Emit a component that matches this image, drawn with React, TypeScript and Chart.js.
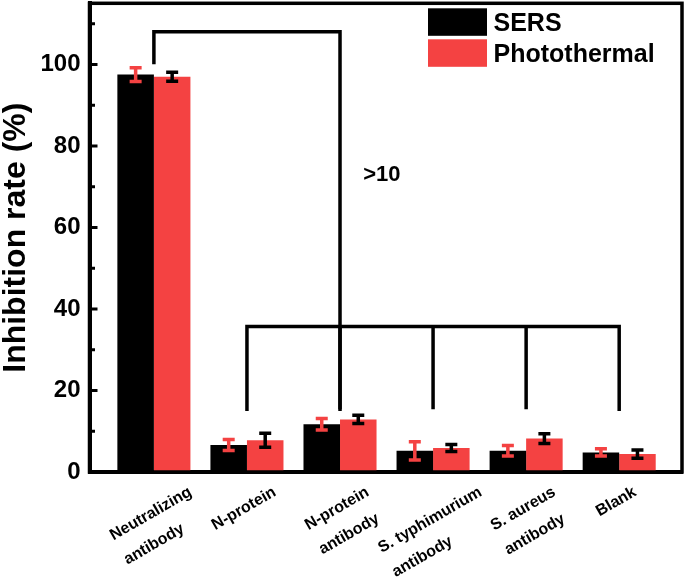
import { useEffect, useRef } from "react";
import { Chart, registerables } from "chart.js";

Chart.register(...registerables);

// ---------- data ----------
const categories: string[][] = [
  ["Neutralizing", "antibody"],
  ["N-protein"],
  ["N-protein", "antibody"],
  ["S. typhimurium", "antibody"],
  ["S. aureus", "antibody"],
  ["Blank"],
];
const seriesNames = ["SERS", "Photothermal"];
const sersValues = [97.5, 6.6, 11.7, 5.2, 5.2, 4.8];
const sersErrors = [1.7, 1.35, 1.4, 2.25, 1.3, 0.9];
const photoValues = [97.0, 7.8, 12.9, 5.9, 8.2, 4.4];
const photoErrors = [1.1, 1.7, 1.0, 0.86, 1.2, 1.0];
const yTickValues = [0, 20, 40, 60, 80, 100];
const yMinorTickValues = [10, 30, 50, 70, 90, 110];

// significance brackets (category index, value)
const upperBracketIdx = [0, 2];
const upperBracketLevel = 108;
const upperStubEnd = 100.5;
const lowerBracketIdx = [1, 2, 3, 4, 5];
const lowerBracketLevel = 35.7;
const lowerStubEnd = 15.4;
const annotationText = ">10";
const annotationPos = [2.25, 72.8];

// ---------- style ----------
const FONT = "'Liberation Sans', Arial, Helvetica, sans-serif";
const RED = "#F44242";
const BLACK = "#000000";

export default function App() {
  const ref = useRef<HTMLCanvasElement>(null);

  useEffect(() => {
    const canvas = ref.current;
    if (!canvas) return;

    const overlay = {
      id: "overlay",
      afterDatasetsDraw(chart: any) {
        const ctx = chart.ctx as CanvasRenderingContext2D;
        const xs = chart.scales.x;
        const ys = chart.scales.y;
        ctx.save();
        // error bars
        const errs = [sersErrors, photoErrors];
        const vals = [sersValues, photoValues];
        const errColors = [RED, BLACK];
        for (let d = 0; d < 2; d++) {
          const meta = chart.getDatasetMeta(d);
          meta.data.forEach((bar: any, i: number) => {
            const x = bar.x;
            const yTop = ys.getPixelForValue(vals[d][i] + errs[d][i]);
            const yBot = ys.getPixelForValue(vals[d][i] - errs[d][i]);
            ctx.strokeStyle = errColors[d];
            ctx.lineWidth = 3.5;
            ctx.lineCap = "butt";
            ctx.beginPath();
            ctx.moveTo(x, yTop);
            ctx.lineTo(x, yBot);
            ctx.moveTo(x - 6, yTop);
            ctx.lineTo(x + 6, yTop);
            ctx.moveTo(x - 6, yBot);
            ctx.lineTo(x + 6, yBot);
            ctx.stroke();
          });
        }
        // brackets
        ctx.strokeStyle = BLACK;
        ctx.lineWidth = 3.5;
        ctx.lineCap = "square";
        ctx.lineJoin = "miter";
        const px = (i: number) => xs.getPixelForValue(i);
        const py = (v: number) => ys.getPixelForValue(v);
        // upper bracket
        ctx.beginPath();
        ctx.moveTo(px(upperBracketIdx[0]), py(upperStubEnd));
        ctx.lineTo(px(upperBracketIdx[0]), py(upperBracketLevel));
        ctx.lineTo(px(upperBracketIdx[1]), py(upperBracketLevel));
        ctx.lineTo(px(upperBracketIdx[1]), py(lowerStubEnd));
        ctx.stroke();
        // lower bracket
        const first = lowerBracketIdx[0];
        const last = lowerBracketIdx[lowerBracketIdx.length - 1];
        ctx.beginPath();
        ctx.moveTo(px(first), py(lowerStubEnd));
        ctx.lineTo(px(first), py(lowerBracketLevel));
        ctx.lineTo(px(last), py(lowerBracketLevel));
        ctx.lineTo(px(last), py(lowerStubEnd));
        ctx.stroke();
        ctx.lineCap = "butt";
        ctx.beginPath();
        lowerBracketIdx.slice(1, -1).forEach((i) => {
          ctx.moveTo(px(i), py(lowerBracketLevel));
          ctx.lineTo(px(i), py(lowerStubEnd));
        });
        ctx.stroke();
        // annotation
        ctx.fillStyle = BLACK;
        ctx.font = `bold 22px ${FONT}`;
        ctx.textAlign = "left";
        ctx.textBaseline = "middle";
        ctx.fillText(annotationText, px(annotationPos[0]), py(annotationPos[1]));
        ctx.restore();
      },
      afterDraw(chart: any) {
        const ctx = chart.ctx as CanvasRenderingContext2D;
        const xs = chart.scales.x;
        const ys = chart.scales.y;
        const area = chart.chartArea;
        ctx.save();
        // frame
        ctx.strokeStyle = BLACK;
        ctx.lineWidth = 3.5;
        ctx.strokeRect(area.left, area.top, area.right - area.left, area.bottom - area.top);
        // inward ticks
        ctx.lineWidth = 3;
        ctx.beginPath();
        yTickValues.forEach((v) => {
          const y = ys.getPixelForValue(v);
          ctx.moveTo(area.left + 2, y);
          ctx.lineTo(area.left + 8, y);
        });
        yMinorTickValues.forEach((v) => {
          const y = ys.getPixelForValue(v);
          ctx.moveTo(area.left + 2, y);
          ctx.lineTo(area.left + 5.5, y);
        });
        ctx.stroke();
        // x labels (rotated, left-aligned lines)
        ctx.fillStyle = BLACK;
        ctx.font = `bold 16px ${FONT}`;
        ctx.textAlign = "left";
        ctx.textBaseline = "middle";
        categories.forEach((lines, i) => {
          const x = xs.getPixelForValue(i) - 3;
          const w1 = ctx.measureText(lines[0]).width;
          const cy = area.bottom + 19 + w1 / 4;
          ctx.save();
          ctx.translate(x, cy);
          ctx.rotate(-Math.PI / 6);
          lines.forEach((ln, k) => {
            ctx.fillText(ln, -w1 / 2, k * 28);
          });
          ctx.restore();
        });
        // legend
        const colors = [BLACK, RED];
        const boxLeft = area.right - 254;
        ctx.font = `bold 25px ${FONT}`;
        ctx.textBaseline = "alphabetic";
        seriesNames.forEach((name, k) => {
          const top = area.top + 5 + k * 31;
          ctx.fillStyle = colors[k];
          ctx.fillRect(boxLeft, top, 59, 27.5);
          ctx.fillStyle = BLACK;
          ctx.fillText(name, boxLeft + 65.5, top + 13.75 + 9);
        });
        ctx.restore();
      },
    };

    const chart = new Chart(canvas, {
      type: "bar",
      data: {
        datasets: [
          {
            label: seriesNames[0],
            data: sersValues.map((v, i) => ({ x: i, y: v })),
            backgroundColor: BLACK,
            borderWidth: 0,
          },
          {
            label: seriesNames[1],
            data: photoValues.map((v, i) => ({ x: i, y: v })),
            backgroundColor: RED,
            borderWidth: 0,
          },
        ],
      },
      options: {
        responsive: false,
        animation: false,
        layout: { padding: { left: 0, top: 3.3, right: 6, bottom: 0 } },
        plugins: { legend: { display: false }, tooltip: { enabled: false } },
        datasets: { bar: { categoryPercentage: 0.785, barPercentage: 1 } },
        scales: {
          x: {
            type: "linear",
            offset: false,
            min: -0.692,
            max: 5.675,
            grid: { display: false, drawTicks: false, offset: false },
            border: { color: BLACK, width: 4 },
            ticks: { display: false },
            afterBuildTicks: (s: any) => {
              s.ticks = categories.map((_, i) => ({ value: i }));
            },
            afterFit: (s: any) => {
              s.height = 108;
              s.paddingLeft = 0;
              s.paddingRight = 0;
            },
          },
          y: {
            type: "linear",
            min: 0,
            max: 115,
            grid: { display: false, drawTicks: false },
            border: { color: BLACK, width: 4 },
            afterBuildTicks: (s: any) => {
              s.ticks = yTickValues.map((v) => ({ value: v }));
            },
            ticks: {
              color: BLACK,
              padding: 9,
              font: { family: FONT, size: 24, weight: "bold" },
              callback: (v: any) => String(v),
            },
            afterFit: (s: any) => {
              s.width = 89.5;
              s.paddingTop = 0;
              s.paddingBottom = 0;
            },
            title: {
              display: true,
              text: "Inhibition rate (%)",
              color: BLACK,
              padding: { top: 0, bottom: 0 },
              font: { family: FONT, size: 32, weight: "bold", lineHeight: 1 },
            },
          },
        },
      } as any,
      plugins: [overlay],
    });

    return () => chart.destroy();
  }, []);

  return (
    <div
      style={{
        position: "absolute",
        left: 0,
        top: 0,
        width: 688,
        height: 580,
        background: "#ffffff",
      }}
    >
      <canvas ref={ref} width={688} height={580} style={{ display: "block" }} />
    </div>
  );
}
